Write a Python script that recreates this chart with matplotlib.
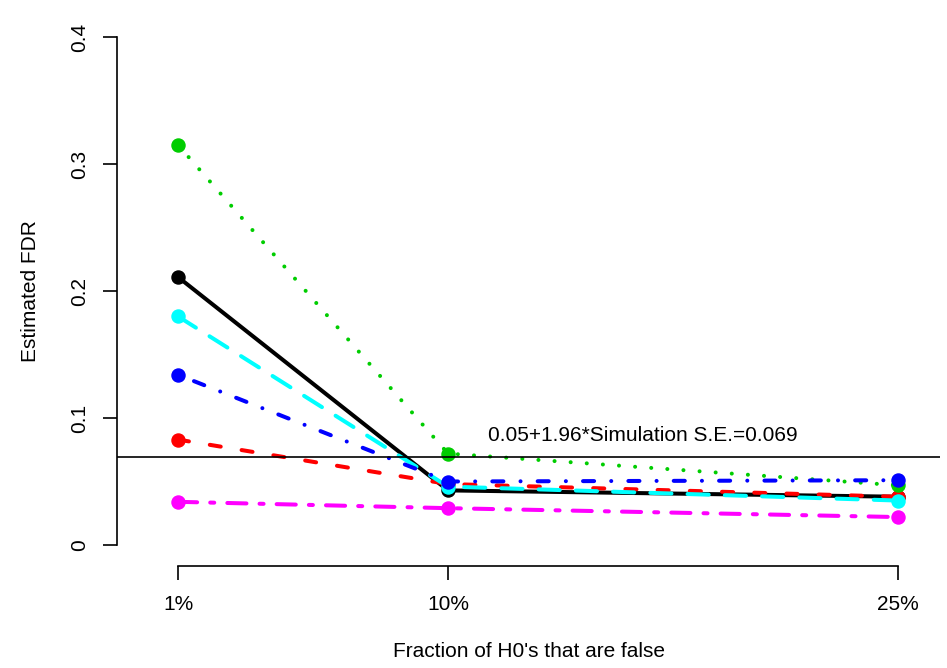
import matplotlib
matplotlib.use("Agg")
import matplotlib.pyplot as plt

# fraction of H0's that are false (percent)
fractions = [1, 10, 25]
tick_labels = ["1%", "10%", "25%"]

# estimated FDR per method
fdr_green = [0.315, 0.072, 0.047]
fdr_black = [0.211, 0.043, 0.038]
fdr_cyan = [0.180, 0.046, 0.035]
fdr_blue = [0.134, 0.050, 0.051]
fdr_red = [0.083, 0.048, 0.038]
fdr_magenta = [0.034, 0.029, 0.022]

se_line = 0.069
se_label = "0.05+1.96*Simulation S.E.=0.069"

plt.rcParams["font.family"] = ["Liberation Sans", "DejaVu Sans"]

fig = plt.figure(figsize=(9.47, 6.68), dpi=100)
W, H = 947, 668
# plot region in pixels (left, top, right, bottom)
left, top, right, bottom = 117, 17, 940, 566
ax = fig.add_axes([left / W, 1 - bottom / H, (right - left) / W, (bottom - top) / H])

lw = 2.9
ms = 9.4
# (values, colour, dash pattern) in drawing order; R-like round line ends
series = [
    (fdr_black, "#000000", "-"),
    (fdr_red, "#ff0000", (0, (2.75, 5.25))),
    (fdr_cyan, "#00ffff", (0, (5.25, 4))),
    (fdr_green, "#00cd00", (0, (0.01, 4))),
    (fdr_blue, "#0000ff", (0, (0.01, 4.25, 2.75, 4.25))),
    (fdr_magenta, "#ff00ff", (0, (4.75, 3.25, 1, 3.25))),
]
for vals, col, ls in series:
    ax.plot(fractions, vals, color=col, lw=lw, linestyle=ls,
            dash_capstyle="round", solid_capstyle="round")
    ax.plot(fractions, vals, "o", color=col, ms=ms, mec=col)

ax.axhline(se_line, color="black", lw=1.2)
ax.text(16.5, se_line + 0.0175, se_label, ha="center", va="center", fontsize=15)

# pixel -> data: x 1% at 178 px, 30 px per %, y 0 at 545 px, 1270 px per unit
x_per_px = 1 / 30.0
ax.set_xlim(1 + (left - 178) * x_per_px, 1 + (right - 178) * x_per_px)
ax.set_ylim((545 - bottom) / 1270, (545 - top) / 1270)

for s in ["top", "right"]:
    ax.spines[s].set_visible(False)
ax.spines["left"].set_bounds(0, 0.4)
ax.spines["bottom"].set_bounds(1, 25)
ax.spines["left"].set_linewidth(1.2)
ax.spines["bottom"].set_linewidth(1.2)

ax.set_xticks(fractions)
ax.set_xticklabels(tick_labels, fontsize=15)
ax.set_yticks([0, 0.1, 0.2, 0.3, 0.4])
ax.set_yticklabels(["0", "0.1", "0.2", "0.3", "0.4"], fontsize=15, rotation=90, va="center")
ax.tick_params(axis="both", length=10, width=1.2)
ax.tick_params(axis="x", pad=11)
ax.tick_params(axis="y", pad=10)

ax.set_xlabel("Fraction of H0's that are false", fontsize=15, labelpad=20)
ax.set_ylabel("Estimated FDR", fontsize=15, labelpad=22)

fig.savefig("out.png", dpi=100)
